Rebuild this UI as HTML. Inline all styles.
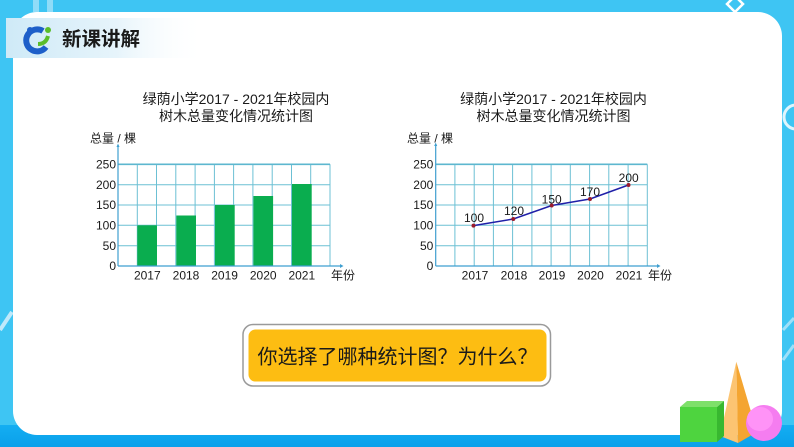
<!DOCTYPE html>
<html><head><meta charset="utf-8"><style>
html,body{margin:0;padding:0;width:794px;height:447px;overflow:hidden;background:#3ec5f3;}
svg{display:block}
text{font-family:"Liberation Sans","Noto Sans CJK SC",sans-serif;fill:#1a1a1a}
</style></head><body>
<svg width="794" height="447" viewBox="0 0 794 447" xmlns="http://www.w3.org/2000/svg">
<defs>
<linearGradient id="hdr" x1="0" x2="1" y1="0" y2="0">
<stop offset="0" stop-color="#cfeaf7"/><stop offset="0.55" stop-color="#e6f4fb"/><stop offset="1" stop-color="#ffffff" stop-opacity="0"/>
</linearGradient>
<linearGradient id="bot" x1="0" x2="0" y1="0" y2="1">
<stop offset="0" stop-color="#14aef2"/><stop offset="1" stop-color="#0aa0ea"/>
</linearGradient>
</defs>
<rect x="0" y="0" width="794" height="447" fill="#3ec5f3"/>
<!-- faint decor -->
<path d="M36 0 L36 12 M50 0 L50 12" stroke="#8fdcf8" stroke-width="6"/>
<path d="M727 4 L735 -4 L743 4 L735 12 Z" fill="none" stroke="#ffffff" stroke-width="2.5"/>
<path d="M0 330 L12 312" stroke="#bfe9fb" stroke-width="4"/>
<circle cx="796" cy="117" r="12" fill="none" stroke="#dff5fd" stroke-width="3"/>
<path d="M783 330 L794 318 M783 360 L794 345" stroke="#9fe0f9" stroke-width="3"/>
<!-- bottom band -->
<rect x="0" y="425" width="794" height="22" fill="url(#bot)"/>
<!-- card -->
<rect x="13" y="12" width="769" height="423" rx="24" ry="24" fill="#ffffff"/>
<!-- header band -->
<rect x="6" y="18" width="200" height="40" fill="url(#hdr)"/>
<!-- logo -->
<path d="M43 31 A11 11 0 1 0 46 47" fill="none" stroke="#1d5fc9" stroke-width="6"/>
<path d="M38 44 Q46 44 48 36" fill="none" stroke="#5bbd2a" stroke-width="4"/>
<circle cx="30" cy="30" r="3" fill="#1d5fc9"/>
<circle cx="48" cy="30" r="3" fill="#5bbd2a"/>
<text x="62" y="45.5" font-size="19.5" font-weight="bold" style="font-family:'Noto Sans CJK SC',sans-serif">新课讲解</text>

<!-- ===== Bar chart ===== -->
<text x="236" y="104" font-size="14" text-anchor="middle">绿荫小学2017 - 2021年校园内</text>
<text x="236" y="121" font-size="14" text-anchor="middle">树木总量变化情况统计图</text>
<text x="90" y="142.5" font-size="12">总量 / 棵</text>
<g stroke="#6cc0d4" stroke-width="1">
<line x1="118" y1="245.7" x2="330" y2="245.7"/>
<line x1="118" y1="225.3" x2="330" y2="225.3"/>
<line x1="118" y1="205" x2="330" y2="205"/>
<line x1="118" y1="184.7" x2="330" y2="184.7"/>
<line x1="137.3" y1="164.3" x2="137.3" y2="266"/>
<line x1="156.5" y1="164.3" x2="156.5" y2="266"/>
<line x1="175.8" y1="164.3" x2="175.8" y2="266"/>
<line x1="195.1" y1="164.3" x2="195.1" y2="266"/>
<line x1="214.4" y1="164.3" x2="214.4" y2="266"/>
<line x1="233.6" y1="164.3" x2="233.6" y2="266"/>
<line x1="252.9" y1="164.3" x2="252.9" y2="266"/>
<line x1="272.2" y1="164.3" x2="272.2" y2="266"/>
<line x1="291.5" y1="164.3" x2="291.5" y2="266"/>
<line x1="310.7" y1="164.3" x2="310.7" y2="266"/>
<line x1="330" y1="164.3" x2="330" y2="266"/>
</g>
<line x1="118" y1="164.3" x2="330" y2="164.3" stroke="#5db7cf" stroke-width="1.6"/>
<g fill="#0aad4f">
<rect x="137.3" y="225.3" width="19.7" height="40.7"/>
<rect x="176.3" y="215.5" width="19.7" height="50.5"/>
<rect x="215" y="205" width="19.7" height="61"/>
<rect x="253.4" y="196" width="19.7" height="70"/>
<rect x="292" y="184" width="19.7" height="82"/>
</g>
<line x1="118" y1="145" x2="118" y2="266" stroke="#3f9fd0" stroke-width="1.2"/>
<line x1="118" y1="266" x2="340" y2="266" stroke="#3f9fd0" stroke-width="1.2"/>
<path d="M340 264 L343.5 266 L340 268 Z" fill="#3f9fd0"/>
<path d="M116.5 147 L118 143.5 L119.5 147 Z" fill="#3f9fd0"/>
<g font-size="12" text-anchor="end">
<text x="116" y="168.5">250</text>
<text x="116" y="188.9">200</text>
<text x="116" y="209.2">150</text>
<text x="116" y="229.5">100</text>
<text x="116" y="249.9">50</text>
<text x="116" y="270.2">0</text>
</g>
<g font-size="12" text-anchor="middle">
<text x="147.3" y="279.5">2017</text>
<text x="186" y="279.5">2018</text>
<text x="224.6" y="279.5">2019</text>
<text x="263.2" y="279.5">2020</text>
<text x="301.8" y="279.5">2021</text>
</g>
<text x="331" y="279.5" font-size="12">年份</text>

<!-- ===== Line chart ===== -->
<text x="553.5" y="104" font-size="14" text-anchor="middle">绿荫小学2017 - 2021年校园内</text>
<text x="553.5" y="121" font-size="14" text-anchor="middle">树木总量变化情况统计图</text>
<text x="407" y="142.5" font-size="12">总量 / 棵</text>
<g stroke="#6cc0d4" stroke-width="1">
<line x1="435.7" y1="245.7" x2="647.3" y2="245.7"/>
<line x1="435.7" y1="225.3" x2="647.3" y2="225.3"/>
<line x1="435.7" y1="205" x2="647.3" y2="205"/>
<line x1="435.7" y1="184.7" x2="647.3" y2="184.7"/>
<line x1="454.9" y1="164.3" x2="454.9" y2="266"/>
<line x1="474.2" y1="164.3" x2="474.2" y2="266"/>
<line x1="493.4" y1="164.3" x2="493.4" y2="266"/>
<line x1="512.6" y1="164.3" x2="512.6" y2="266"/>
<line x1="531.9" y1="164.3" x2="531.9" y2="266"/>
<line x1="551.1" y1="164.3" x2="551.1" y2="266"/>
<line x1="570.3" y1="164.3" x2="570.3" y2="266"/>
<line x1="589.6" y1="164.3" x2="589.6" y2="266"/>
<line x1="608.8" y1="164.3" x2="608.8" y2="266"/>
<line x1="628.1" y1="164.3" x2="628.1" y2="266"/>
<line x1="647.3" y1="164.3" x2="647.3" y2="266"/>
</g>
<line x1="435.7" y1="164.3" x2="647.3" y2="164.3" stroke="#5db7cf" stroke-width="1.6"/>
<line x1="435.7" y1="144" x2="435.7" y2="266" stroke="#3f9fd0" stroke-width="1.2"/>
<line x1="435.7" y1="266" x2="657" y2="266" stroke="#3f9fd0" stroke-width="1.2"/>
<path d="M657 264 L660.5 266 L657 268 Z" fill="#3f9fd0"/>
<path d="M434.2 146 L435.7 142.5 L437.2 146 Z" fill="#3f9fd0"/>
<polyline points="473.5,225.6 513.3,219 551.7,205.5 590,199 628.5,185" fill="none" stroke="#1f1fa8" stroke-width="1.5"/>
<g fill="#9a1b2c">
<circle cx="473.5" cy="225.6" r="2"/>
<circle cx="513.3" cy="219" r="2"/>
<circle cx="551.7" cy="205.5" r="2"/>
<circle cx="590" cy="199" r="2"/>
<circle cx="628.5" cy="185" r="2"/>
</g>
<g font-size="12" text-anchor="middle">
<text x="474" y="222">100</text>
<text x="514" y="215">120</text>
<text x="551.7" y="203.3">150</text>
<text x="590" y="196">170</text>
<text x="628.7" y="182">200</text>
</g>
<g font-size="12" text-anchor="end">
<text x="433.3" y="168.5">250</text>
<text x="433.3" y="188.9">200</text>
<text x="433.3" y="209.2">150</text>
<text x="433.3" y="229.5">100</text>
<text x="433.3" y="249.9">50</text>
<text x="433.3" y="270.2">0</text>
</g>
<g font-size="12" text-anchor="middle">
<text x="475" y="279.5">2017</text>
<text x="514" y="279.5">2018</text>
<text x="552" y="279.5">2019</text>
<text x="590.5" y="279.5">2020</text>
<text x="629" y="279.5">2021</text>
</g>
<text x="648" y="279.5" font-size="12">年份</text>

<!-- ===== question box ===== -->
<rect x="243" y="324.5" width="307.5" height="61.5" rx="10" ry="10" fill="#ffffff" stroke="#9a9a9a" stroke-width="1.5"/>
<rect x="248.5" y="329.5" width="298" height="52" rx="7" ry="7" fill="#fdbd12"/>
<text x="397.5" y="363.5" font-size="20" text-anchor="middle" style="font-family:'Noto Sans CJK SC',sans-serif">你选择了哪种统计图？为什么？</text>

<!-- ===== 3D shapes ===== -->
<polygon points="736.3,361.7 720,436 738,443" fill="#fcc472"/>
<polygon points="736.3,361.7 738,443 757,432" fill="#f4a531"/>
<polygon points="680,407 687,401 724,401 717,407" fill="#7ee06a"/>
<polygon points="680,407 717,407 717,442 680,442" fill="#4ed43f"/>
<polygon points="717,407 724,401 724,436 717,442" fill="#38b830"/>
<circle cx="764" cy="423" r="18" fill="#f57df0"/>
<ellipse cx="760" cy="419" rx="13" ry="12" fill="#ff93f7"/>
</svg>
</body></html>
